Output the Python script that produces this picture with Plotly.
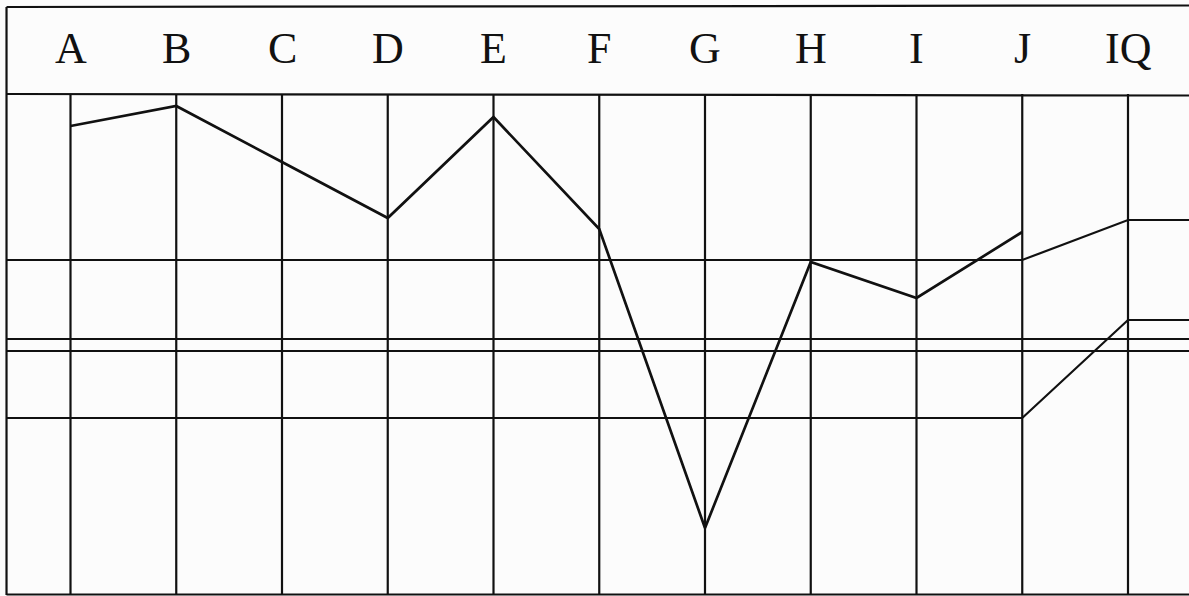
import plotly.graph_objects as go

# ---- data ----
categories = ["A", "B", "C", "D", "E", "F", "G", "H", "I", "J"]
header_labels = ["A", "B", "C", "D", "E", "F", "G", "H", "I", "J", "IQ"]
profile_scores = [93.8, 97.8, 86.6, 75.4, 95.6, 73.2, 13.4, 66.6, 59.4, 72.6]

band_upper = 67.0      # upper reference line (subtests)
band_mid_a = 51.2      # full-width reference line
band_mid_b = 48.8      # full-width reference line
band_lower = 35.4      # lower reference line (subtests)
iq_upper = 75.0        # upper reference at IQ column
iq_lower = 55.0        # lower reference at IQ column

# ---- geometry helpers (axis ranges) ----
X_MIN, X_MAX = -0.6667, 10.5768
Y_MIN, Y_MAX = -0.2, 119.0
LEFT_EDGE = -0.605
TOP_EDGE = 117.6
HEADER_LINE = 100.2
BOTTOM_EDGE = 0.0

INK = "#111111"
n = len(categories)
iq_x = n  # index of IQ column
xs = list(range(n))

fig = go.Figure()

# vertical grid lines at each column
for i in range(len(header_labels)):
    fig.add_shape(type="line", x0=i, x1=i, y0=BOTTOM_EDGE, y1=HEADER_LINE,
                  line=dict(color=INK, width=2.2))

# frame: left, top, bottom and header separator
fig.add_shape(type="line", x0=LEFT_EDGE, x1=X_MAX, y0=TOP_EDGE, y1=TOP_EDGE + 0.3,
              line=dict(color=INK, width=2.2))
fig.add_shape(type="line", x0=LEFT_EDGE, x1=X_MAX, y0=HEADER_LINE, y1=HEADER_LINE - 0.3,
              line=dict(color=INK, width=2.2))
fig.add_shape(type="line", x0=LEFT_EDGE, x1=X_MAX, y0=BOTTOM_EDGE + 0.1, y1=BOTTOM_EDGE + 0.1,
              line=dict(color=INK, width=2.2))
fig.add_shape(type="line", x0=LEFT_EDGE, x1=LEFT_EDGE, y0=BOTTOM_EDGE, y1=TOP_EDGE,
              line=dict(color=INK, width=2.2))

line_style = dict(color=INK, width=2.2)

# full-width reference lines
for yv in (band_mid_a, band_mid_b):
    fig.add_trace(go.Scatter(x=[LEFT_EDGE, X_MAX], y=[yv, yv], mode="lines",
                             line=line_style, hoverinfo="skip", showlegend=False))

# bent reference lines (subtest level -> IQ level)
for sub_v, iq_v in ((band_upper, iq_upper), (band_lower, iq_lower)):
    fig.add_trace(go.Scatter(x=[LEFT_EDGE, n - 1, iq_x, X_MAX],
                             y=[sub_v, sub_v, iq_v, iq_v], mode="lines",
                             line=line_style, hoverinfo="skip", showlegend=False))

# profile line
fig.add_trace(go.Scatter(x=xs, y=profile_scores, mode="lines",
                         line=dict(color=INK, width=2.7), showlegend=False,
                         text=categories, hovertemplate="%{text}: %{y}<extra></extra>"))

# header letters
for i, lab in enumerate(header_labels):
    fig.add_annotation(x=i, y=109.3, text=lab, showarrow=False,
                       xanchor="center", yanchor="middle",
                       font=dict(family="Liberation Serif", size=44, color=INK))

fig.update_layout(
    width=1189, height=596,
    margin=dict(l=0, r=0, t=0, b=0),
    paper_bgcolor="#fcfcfc", plot_bgcolor="#fcfcfc",
    xaxis=dict(range=[X_MIN, X_MAX], visible=False, fixedrange=True),
    yaxis=dict(range=[Y_MIN, Y_MAX], visible=False, fixedrange=True),
)

fig.write_html("out.html",
               config={"displayModeBar": False},
               post_script="document.body.style.margin='0';document.body.style.overflow='hidden';")
